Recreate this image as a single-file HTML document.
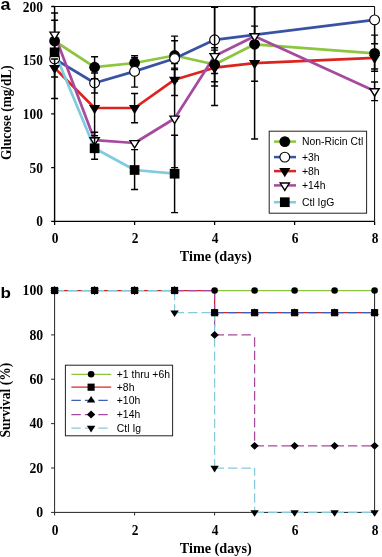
<!DOCTYPE html><html><head><meta charset="utf-8"><title>chart</title><style>html,body{margin:0;padding:0;background:#fff}svg{display:block;will-change:transform}text{font-family:"Liberation Serif",serif;font-weight:bold;fill:#000}.s{font-family:"Liberation Sans",sans-serif;font-weight:normal}.sb{font-family:"Liberation Sans",sans-serif;font-weight:bold}</style></head><body>
<svg width="382" height="557" viewBox="0 0 382 557">
<rect width="382" height="557" fill="#fff"/>
<g stroke="#000" fill="none">
<path d="M54.6 6.5H374.6V221.4" stroke-width="1"/>
<path d="M54.6 6.2V221.9" stroke-width="1.4"/><path d="M54.6 221.4H374.6" stroke-width="1.15"/>
<path d="M51.2 221.40h3.4M51.2 167.68h3.4M51.2 113.95h3.4M51.2 60.22h3.4M51.2 6.50h3.4M54.6 221.4v3.5M134.6 221.4v3.5M214.6 221.4v3.5M294.6 221.4v3.5M374.6 221.4v3.5" stroke-width="1.3"/>
</g>
<path d="M54.6 41L94.6 67.2L134.6 63L174.6 55.5L214.6 64.5L254.6 44.3L374.6 53.3" fill="none" stroke="#8cc63f" stroke-width="2.7" stroke-linejoin="round"/>
<path d="M54.6 58.8L94.6 83L134.6 71.4L174.6 58.5L214.6 39.8L374.6 19.9" fill="none" stroke="#3953a4" stroke-width="2.7" stroke-linejoin="round"/>
<path d="M54.6 67.9L94.6 108L134.6 108L174.6 79.7L214.6 67.7L254.6 63.1L374.6 57.9" fill="none" stroke="#dc241f" stroke-width="2.7" stroke-linejoin="round"/>
<path d="M54.6 34.5L94.6 140.2L134.6 143L174.6 118.5L214.6 56L254.6 36.2L374.6 91.1" fill="none" stroke="#a54a9e" stroke-width="2.7" stroke-linejoin="round"/>
<path d="M54.6 52.3L94.6 148.3L134.6 170L174.6 173.7" fill="none" stroke="#7fcce0" stroke-width="2.7" stroke-linejoin="round"/>
<path d="M94.6 56.75V78.7M91.1 56.75h7.0M91.1 78.7h7.0M134.6 57.8V68.2M131.1 57.8h7.0M131.1 68.2h7.0M174.6 40.8V68.1M171.1 40.8h7.0M171.1 68.1h7.0M214.6 47.8V81.7M211.1 47.8h7.0M211.1 81.7h7.0M254.6 6.6V81.3M251.1 6.6h7.0M251.1 81.3h7.0M374.6 35.1V71.3M371.1 35.1h7.0M371.1 71.3h7.0" fill="none" stroke="#000" stroke-width="1.45"/>
<circle cx="54.6" cy="41" r="5.4" fill="#000"/>
<circle cx="94.6" cy="67.2" r="5.4" fill="#000"/>
<circle cx="134.6" cy="63" r="5.4" fill="#000"/>
<circle cx="174.6" cy="55.5" r="5.4" fill="#000"/>
<circle cx="214.6" cy="64.5" r="5.4" fill="#000"/>
<circle cx="254.6" cy="44.3" r="5.4" fill="#000"/>
<circle cx="374.6" cy="53.3" r="5.4" fill="#000"/>
<path d="M54.6 20.3V98.4M51.1 20.3h7.0M51.1 98.4h7.0M94.6 73V93M91.1 73h7.0M91.1 93h7.0M134.6 55.7V87.1M131.1 55.7h7.0M131.1 87.1h7.0M174.6 36.1V80.9M171.1 36.1h7.0M171.1 80.9h7.0M214.6 7.2V73.4M211.1 7.2h7.0M211.1 73.4h7.0M374.6 20V43.7M371.1 20h7.0M371.1 43.7h7.0" fill="none" stroke="#000" stroke-width="1.45"/>
<circle cx="54.6" cy="58.8" r="4.9" fill="#fff" stroke="#000" stroke-width="1.1"/>
<circle cx="94.6" cy="83" r="4.9" fill="#fff" stroke="#000" stroke-width="1.1"/>
<circle cx="134.6" cy="71.4" r="4.9" fill="#fff" stroke="#000" stroke-width="1.1"/>
<circle cx="174.6" cy="58.5" r="4.9" fill="#fff" stroke="#000" stroke-width="1.1"/>
<circle cx="214.6" cy="39.8" r="4.9" fill="#fff" stroke="#000" stroke-width="1.1"/>
<circle cx="374.6" cy="19.9" r="4.9" fill="#fff" stroke="#000" stroke-width="1.1"/>
<path d="M54.6 58.9V76.9M51.1 58.9h7.0M51.1 76.9h7.0M94.6 78.7V135.6M91.1 78.7h7.0M91.1 135.6h7.0M134.6 93.4V122.7M131.1 93.4h7.0M131.1 122.7h7.0M174.6 63.6V95.4M171.1 63.6h7.0M171.1 95.4h7.0M214.6 50.1V86M211.1 50.1h7.0M211.1 86h7.0M254.6 6.6V139M251.1 6.6h7.0M251.1 139h7.0M374.6 54V69M371.1 54h7.0M371.1 69h7.0" fill="none" stroke="#000" stroke-width="1.45"/>
<path d="M49.0 64.9h11.2L54.6 74.10000000000001z" fill="#000"/>
<path d="M89.0 105.0h11.2L94.6 114.2z" fill="#000"/>
<path d="M129.0 105.0h11.2L134.6 114.2z" fill="#000"/>
<path d="M169.0 76.7h11.2L174.6 85.9z" fill="#000"/>
<path d="M209.0 64.7h11.2L214.6 73.9z" fill="#000"/>
<path d="M249.0 60.1h11.2L254.6 69.3z" fill="#000"/>
<path d="M369.0 54.9h11.2L374.6 64.1z" fill="#000"/>
<path d="M54.6 13V56M51.1 13h7.0M51.1 56h7.0M94.6 132.3V147M91.1 132.3h7.0M91.1 147h7.0M174.6 69.4V167.6M171.1 69.4h7.0M171.1 167.6h7.0M214.6 7.2V105.4M211.1 7.2h7.0M211.1 105.4h7.0M254.6 26.1V46.3M251.1 26.1h7.0M251.1 46.3h7.0M374.6 81.9V100.6M371.1 81.9h7.0M371.1 100.6h7.0" fill="none" stroke="#000" stroke-width="1.45"/>
<path d="M50.0 32.1h9.2L54.6 39.5z" fill="#fff" stroke="#000" stroke-width="1.4"/>
<path d="M90.0 137.79999999999998h9.2L94.6 145.2z" fill="#fff" stroke="#000" stroke-width="1.4"/>
<path d="M130.0 140.6h9.2L134.6 148.0z" fill="#fff" stroke="#000" stroke-width="1.4"/>
<path d="M170.0 116.1h9.2L174.6 123.5z" fill="#fff" stroke="#000" stroke-width="1.4"/>
<path d="M210.0 53.6h9.2L214.6 61.0z" fill="#fff" stroke="#000" stroke-width="1.4"/>
<path d="M250.0 33.800000000000004h9.2L254.6 41.2z" fill="#fff" stroke="#000" stroke-width="1.4"/>
<path d="M370.0 88.69999999999999h9.2L374.6 96.1z" fill="#fff" stroke="#000" stroke-width="1.4"/>
<path d="M94.6 137.4V159.3M91.1 137.4h7.0M91.1 159.3h7.0M134.6 149.6V189.4M131.1 149.6h7.0M131.1 189.4h7.0M174.6 135.2V212.6M171.1 135.2h7.0M171.1 212.6h7.0" fill="none" stroke="#000" stroke-width="1.45"/>
<rect x="49.75" y="47.449999999999996" width="9.7" height="9.7" fill="#000"/>
<rect x="89.75" y="143.45000000000002" width="9.7" height="9.7" fill="#000"/>
<rect x="129.75" y="165.15" width="9.7" height="9.7" fill="#000"/>
<rect x="169.75" y="168.85" width="9.7" height="9.7" fill="#000"/>
<rect x="269.2" y="131.2" width="97.4" height="82" fill="#fff" stroke="#222" stroke-width="1"/>
<path d="M274 141.6H296" stroke="#8cc63f" stroke-width="2.5"/>
<circle cx="284.8" cy="141.6" r="5.4" fill="#000"/>
<text class="s" x="302" y="145.29999999999998" font-size="10.4">Non-Ricin Ctl</text>
<path d="M274 157.1H296" stroke="#3953a4" stroke-width="2.5"/>
<circle cx="284.8" cy="157.1" r="4.9" fill="#fff" stroke="#000" stroke-width="1.1"/>
<text class="s" x="302" y="160.79999999999998" font-size="10.4">+3h</text>
<path d="M274 171.1H296" stroke="#dc241f" stroke-width="2.5"/>
<path d="M279.2 168.1h11.2L284.8 177.29999999999998z" fill="#000"/>
<text class="s" x="302" y="174.79999999999998" font-size="10.4">+8h</text>
<path d="M274 185.4H296" stroke="#a54a9e" stroke-width="2.5"/>
<path d="M280.2 183.0h9.2L284.8 190.4z" fill="#fff" stroke="#000" stroke-width="1.4"/>
<text class="s" x="302" y="189.1" font-size="10.4">+14h</text>
<path d="M274 202.2H296" stroke="#7fcce0" stroke-width="2.5"/>
<rect x="279.95" y="197.35" width="9.7" height="9.7" fill="#000"/>
<text class="s" x="302" y="205.89999999999998" font-size="10.4">Ctl IgG</text>
<text transform="translate(42.9 226.4) scale(1 1.08)" font-size="13.4" text-anchor="end">0</text>
<text transform="translate(42.9 172.7) scale(1 1.08)" font-size="13.4" text-anchor="end">50</text>
<text transform="translate(42.9 119.0) scale(1 1.08)" font-size="13.4" text-anchor="end">100</text>
<text transform="translate(42.9 65.2) scale(1 1.08)" font-size="13.4" text-anchor="end">150</text>
<text transform="translate(42.9 11.5) scale(1 1.08)" font-size="13.4" text-anchor="end">200</text>
<text transform="translate(55.1 243.2) scale(1 1.08)" font-size="13.4" text-anchor="middle">0</text>
<text transform="translate(135.1 243.2) scale(1 1.08)" font-size="13.4" text-anchor="middle">2</text>
<text transform="translate(215.1 243.2) scale(1 1.08)" font-size="13.4" text-anchor="middle">4</text>
<text transform="translate(295.1 243.2) scale(1 1.08)" font-size="13.4" text-anchor="middle">6</text>
<text transform="translate(375.1 243.2) scale(1 1.08)" font-size="13.4" text-anchor="middle">8</text>
<text x="215.7" y="261.1" font-size="14.2" text-anchor="middle">Time (days)</text>
<text transform="translate(11.3 112.7) rotate(-90) scale(1 1.06)" font-size="13.3" text-anchor="middle">Glucose (mg/dL)</text>
<text class="sb" transform="translate(0.6 9.8) scale(1.08 1)" font-size="16.6">a</text>
<g stroke="#222" fill="none" stroke-width="1">
<path d="M54.6 290.5V512.4H374.6V290.5"/>
<path d="M51.1 512.40h3.5M51.1 468.02h3.5M51.1 423.64h3.5M51.1 379.26h3.5M51.1 334.88h3.5M51.1 290.50h3.5M54.6 512.4v3M134.6 512.4v3M214.6 512.4v3M294.6 512.4v3M374.6 512.4v3"/>
</g>
<g fill="none" stroke-width="1.25">
<path d="M214.6 290.50H254.6H294.6H334.6H374.6" stroke="#8cc63f"/>
<path d="M54.6 290.50H94.6H134.6H174.6H214.6V312.69H254.6H294.6H334.6H374.6" stroke="#dc241f"/>
<path d="M214.6 312.69H254.6M254.6 312.69H294.6M294.6 312.69H334.6M334.6 312.69H374.6" stroke="#445db0" stroke-dasharray="9.4 4.05"/>
<path d="M174.6 290.50H214.6M214.6 334.88H254.6M254.6 445.83H294.6M294.6 445.83H334.6M334.6 445.83H374.6" stroke="#a54a9e" stroke-dasharray="9.4 4.05"/>
<path d="M214.6 290.50V334.88" stroke="#a54a9e" stroke-dasharray="9.4 4.05" stroke-dashoffset="40"/>
<path d="M254.6 334.88V445.83" stroke="#a54a9e" stroke-dasharray="9.4 4.05" stroke-dashoffset="38"/>
<path d="M54.6 290.50H94.6M94.6 290.50H134.6M134.6 290.50H174.6M174.6 312.69H214.6M214.6 468.02H254.6M254.6 512.40H294.6M294.6 512.40H334.6M334.6 512.40H374.6" stroke="#86c9db" stroke-dasharray="9.4 4.05"/>
<path d="M174.6 290.50V312.69" stroke="#86c9db" stroke-dasharray="9.4 4.05" stroke-dashoffset="40"/>
<path d="M214.6 312.69V468.02" stroke="#86c9db" stroke-dasharray="9.4 4.05" stroke-dashoffset="42"/>
<path d="M254.6 468.02V512.40" stroke="#86c9db" stroke-dasharray="9.4 4.05" stroke-dashoffset="42"/>
</g>
<circle cx="54.6" cy="290.5" r="3.3" fill="#000"/>
<circle cx="94.6" cy="290.5" r="3.3" fill="#000"/>
<circle cx="134.6" cy="290.5" r="3.3" fill="#000"/>
<circle cx="174.6" cy="290.5" r="3.3" fill="#000"/>
<circle cx="214.6" cy="290.5" r="3.3" fill="#000"/>
<circle cx="254.6" cy="290.5" r="3.3" fill="#000"/>
<circle cx="294.6" cy="290.5" r="3.3" fill="#000"/>
<circle cx="334.6" cy="290.5" r="3.3" fill="#000"/>
<circle cx="374.6" cy="290.5" r="3.3" fill="#000"/>
<rect x="51.050000000000004" y="286.9" width="7.1" height="7.2" fill="#000"/>
<rect x="91.05" y="286.9" width="7.1" height="7.2" fill="#000"/>
<rect x="131.04999999999998" y="286.9" width="7.1" height="7.2" fill="#000"/>
<rect x="171.04999999999998" y="286.9" width="7.1" height="7.2" fill="#000"/>
<rect x="211.04999999999998" y="309.09" width="7.1" height="7.2" fill="#000"/>
<rect x="251.04999999999998" y="309.09" width="7.1" height="7.2" fill="#000"/>
<rect x="291.05" y="309.09" width="7.1" height="7.2" fill="#000"/>
<rect x="331.05" y="309.09" width="7.1" height="7.2" fill="#000"/>
<rect x="371.05" y="309.09" width="7.1" height="7.2" fill="#000"/>
<path d="M50.4 292.7h8.4L54.6 286.1z" fill="#000"/>
<path d="M90.39999999999999 292.7h8.4L94.6 286.1z" fill="#000"/>
<path d="M130.4 292.7h8.4L134.6 286.1z" fill="#000"/>
<path d="M170.4 292.7h8.4L174.6 286.1z" fill="#000"/>
<path d="M210.4 314.89h8.4L214.6 308.29z" fill="#000"/>
<path d="M250.4 314.89h8.4L254.6 308.29z" fill="#000"/>
<path d="M290.40000000000003 314.89h8.4L294.6 308.29z" fill="#000"/>
<path d="M330.40000000000003 314.89h8.4L334.6 308.29z" fill="#000"/>
<path d="M370.40000000000003 314.89h8.4L374.6 308.29z" fill="#000"/>
<path d="M50.45 290.5L54.6 286.55L58.75 290.5L54.6 294.45z" fill="#000"/>
<path d="M90.44999999999999 290.5L94.6 286.55L98.75 290.5L94.6 294.45z" fill="#000"/>
<path d="M130.45 290.5L134.6 286.55L138.75 290.5L134.6 294.45z" fill="#000"/>
<path d="M170.45 290.5L174.6 286.55L178.75 290.5L174.6 294.45z" fill="#000"/>
<path d="M210.45 334.88L214.6 330.93L218.75 334.88L214.6 338.83z" fill="#000"/>
<path d="M250.45 445.83L254.6 441.88L258.75 445.83L254.6 449.78z" fill="#000"/>
<path d="M290.45000000000005 445.83L294.6 441.88L298.75 445.83L294.6 449.78z" fill="#000"/>
<path d="M330.45000000000005 445.83L334.6 441.88L338.75 445.83L334.6 449.78z" fill="#000"/>
<path d="M370.45000000000005 445.83L374.6 441.88L378.75 445.83L374.6 449.78z" fill="#000"/>
<path d="M50.4 288.3h8.4L54.6 294.9z" fill="#000"/>
<path d="M90.39999999999999 288.3h8.4L94.6 294.9z" fill="#000"/>
<path d="M130.4 288.3h8.4L134.6 294.9z" fill="#000"/>
<path d="M170.4 310.49h8.4L174.6 317.09z" fill="#000"/>
<path d="M210.4 465.82h8.4L214.6 472.41999999999996z" fill="#000"/>
<path d="M250.4 510.2h8.4L254.6 516.8z" fill="#000"/>
<path d="M290.40000000000003 510.2h8.4L294.6 516.8z" fill="#000"/>
<path d="M330.40000000000003 510.2h8.4L334.6 516.8z" fill="#000"/>
<path d="M370.40000000000003 510.2h8.4L374.6 516.8z" fill="#000"/>
<rect x="65.4" y="365.2" width="107.2" height="70.6" fill="#fff" stroke="#222" stroke-width="1"/>
<path d="M71.4 374.3H111.2" stroke="#8cc63f" stroke-width="1.25"/>
<circle cx="91.1" cy="374.3" r="3.3" fill="#000"/>
<text class="s" x="116.8" y="377.90000000000003" font-size="10.4">+1 thru +6h</text>
<path d="M71.4 387.2H111.2" stroke="#dc241f" stroke-width="1.25"/>
<rect x="87.55" y="383.59999999999997" width="7.1" height="7.2" fill="#000"/>
<text class="s" x="116.8" y="390.8" font-size="10.4">+8h</text>
<path d="M71.4 400.3H111.2" stroke="#445db0" stroke-width="1.25" stroke-dasharray="9.4 4.05"/>
<path d="M86.89999999999999 402.5h8.4L91.1 395.90000000000003z" fill="#000"/>
<text class="s" x="116.8" y="403.90000000000003" font-size="10.4">+10h</text>
<path d="M71.4 414.5H111.2" stroke="#a54a9e" stroke-width="1.25" stroke-dasharray="9.4 4.05"/>
<path d="M86.94999999999999 414.5L91.1 410.55L95.25 414.5L91.1 418.45z" fill="#000"/>
<text class="s" x="116.8" y="418.1" font-size="10.4">+14h</text>
<path d="M71.4 428.0H111.2" stroke="#86c9db" stroke-width="1.25" stroke-dasharray="9.4 4.05"/>
<path d="M86.89999999999999 425.8h8.4L91.1 432.4z" fill="#000"/>
<text class="s" x="116.8" y="431.6" font-size="10.4">Ctl Ig</text>
<text transform="translate(43.2 517.1) scale(1.02 1.08)" font-size="13.5" text-anchor="end">0</text>
<text transform="translate(43.2 472.7) scale(1.02 1.08)" font-size="13.5" text-anchor="end">20</text>
<text transform="translate(43.2 428.3) scale(1.02 1.08)" font-size="13.5" text-anchor="end">40</text>
<text transform="translate(43.2 384.0) scale(1.02 1.08)" font-size="13.5" text-anchor="end">60</text>
<text transform="translate(43.2 339.6) scale(1.02 1.08)" font-size="13.5" text-anchor="end">80</text>
<text transform="translate(43.2 295.2) scale(1.02 1.08)" font-size="13.5" text-anchor="end">100</text>
<text transform="translate(55.1 534.9) scale(1 1.06)" font-size="13.4" text-anchor="middle">0</text>
<text transform="translate(135.1 534.9) scale(1 1.06)" font-size="13.4" text-anchor="middle">2</text>
<text transform="translate(215.1 534.9) scale(1 1.06)" font-size="13.4" text-anchor="middle">4</text>
<text transform="translate(295.1 534.9) scale(1 1.06)" font-size="13.4" text-anchor="middle">6</text>
<text transform="translate(375.1 534.9) scale(1 1.06)" font-size="13.4" text-anchor="middle">8</text>
<text x="215.7" y="552.7" font-size="14.2" text-anchor="middle">Time (days)</text>
<text transform="translate(9.8 400.1) rotate(-90) scale(1 1.04)" font-size="13.5" text-anchor="middle">Survival (%)</text>
<text class="sb" transform="translate(0.6 297.6) scale(1.1 1)" font-size="15.5">b</text>
</svg></body></html>
